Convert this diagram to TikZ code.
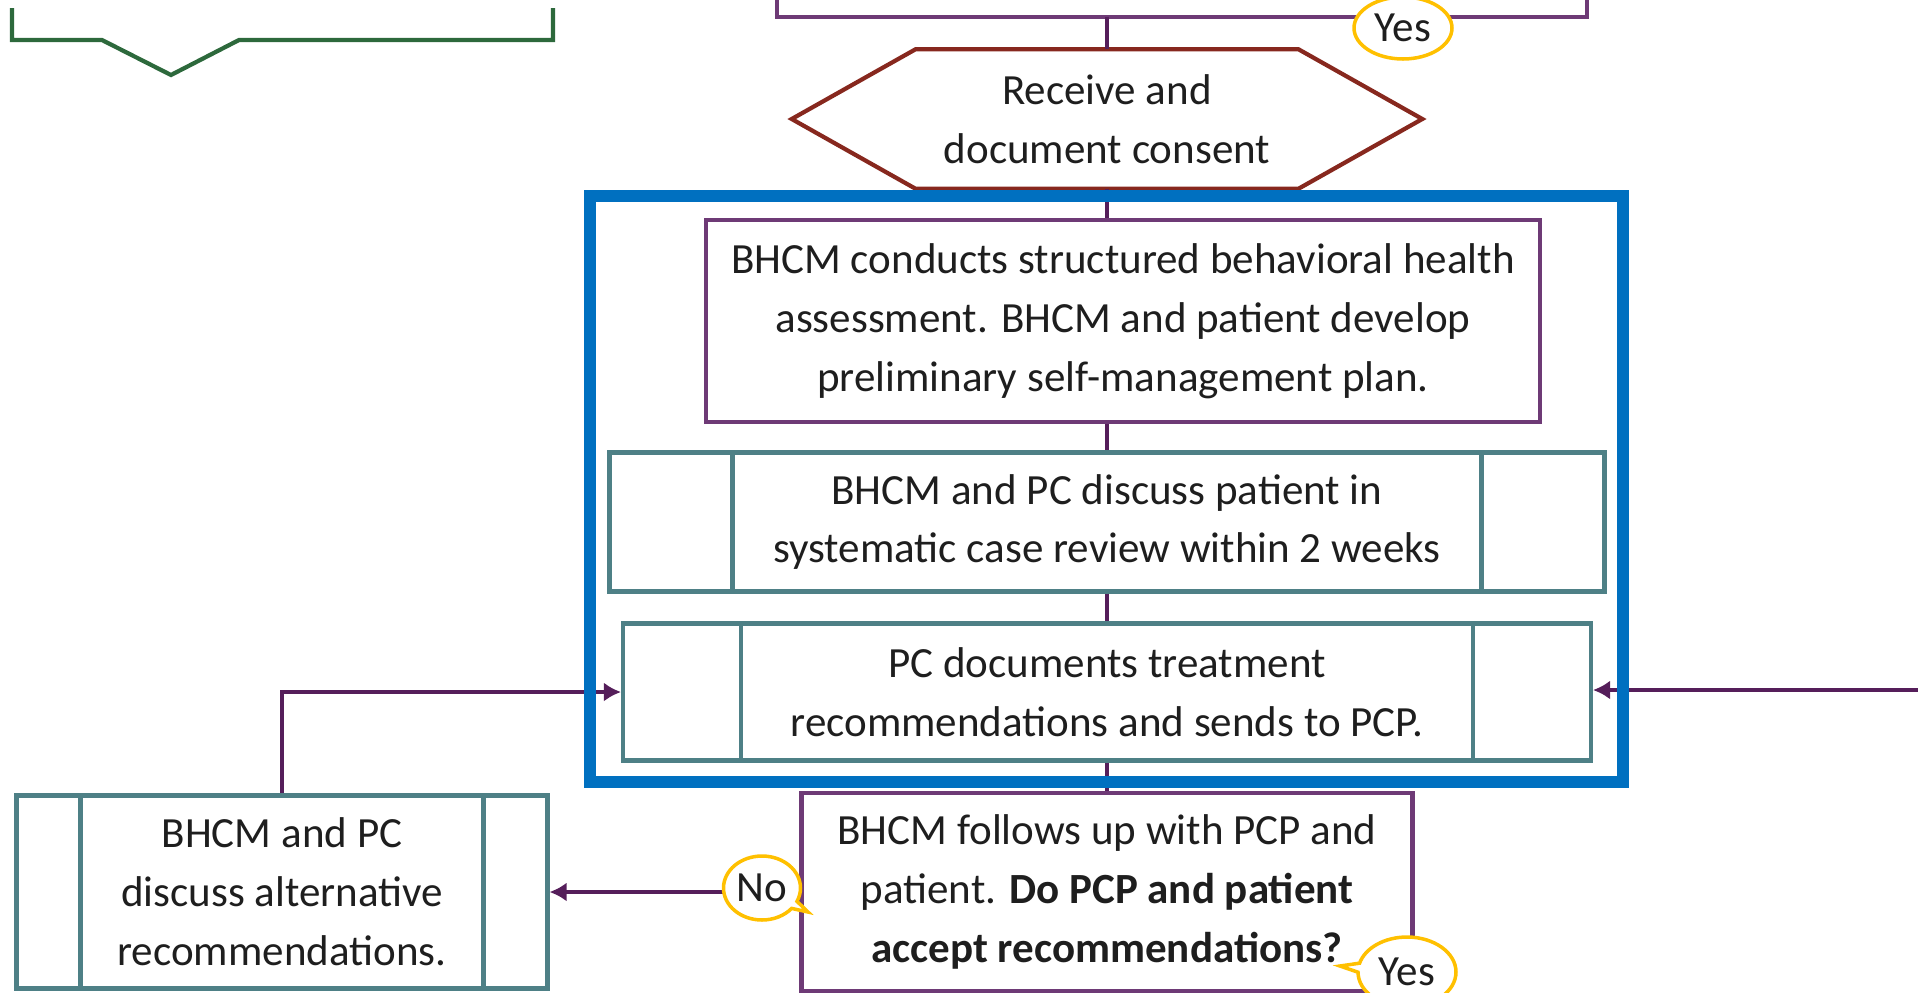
\documentclass[tikz,border=0pt]{standalone}
\usepackage{fontspec}
\setmainfont{Carlito}
\usetikzlibrary{shapes,arrows.meta,calc}

\definecolor{linepurple}{RGB}{85,30,90}
\definecolor{boxpurple}{RGB}{110,58,118}
\definecolor{tealbox}{RGB}{78,128,134}
\definecolor{hexred}{RGB}{135,40,30}
\definecolor{greenline}{RGB}{45,105,60}
\definecolor{frameblue}{RGB}{0,112,192}
\definecolor{calloutyellow}{RGB}{255,192,0}
\definecolor{txt}{RGB}{30,30,30}

\begin{document}
\begin{tikzpicture}[x=0.02cm, y=-0.02cm, >={Latex[length=0.34cm, width=0.38cm]}, font=\fontsize{24.5}{33.5}\selectfont, text=txt]
  \tikzstyle{proc}=[rectangle, draw=boxpurple, line width=2.4pt, align=center, inner sep=0pt]
  \tikzstyle{subproc}=[rectangle, draw=tealbox, line width=2.4pt, align=center, inner sep=0pt]
  \tikzstyle{flow}=[draw=linepurple, line width=2.2pt]
  \tikzstyle{bubble}=[ellipse callout, draw=calloutyellow, fill=white, line width=2pt, inner sep=0pt, minimum width=1.54cm, minimum height=1.28cm]
  \useasboundingbox (0,0) rectangle (1918,992);

  % shapes cut off at the top
  \draw[draw=greenline, line width=2.4pt] (12,8) -- (12,40) -- (102,40) -- (171,75) -- (239,40) -- (553,40) -- (553,8);
  \draw[draw=boxpurple, line width=2.4pt] (777,0) -- (777,17) -- (1587,17) -- (1587,0);
  \coordinate (prev) at (1107,17);

  \node (consent) at (1107,119) [minimum width=12.6cm, minimum height=2.78cm, inner sep=0pt, align=center] {Receive and\\document consent};
  \draw[draw=hexred, line width=2.4pt] (consent.west) -- ($(consent.north west)+(124,0)$) -- ($(consent.north east)+(-124,0)$)
    -- (consent.east) -- ($(consent.south east)+(-124,0)$) -- ($(consent.south west)+(124,0)$) -- cycle;

  \node[proc] (assess) at (1123,321) [minimum width=16.68cm, minimum height=4.04cm] {BHCM conducts structured behavioral health\\assessment. BHCM and patient develop\\preliminary self-management plan.};
  \node[subproc] (review) at (1107,522) [minimum width=19.9cm, minimum height=2.78cm] {BHCM and PC discuss patient in\\systematic case review within 2 weeks};
  \node[subproc] (reco) at (1107,692) [minimum width=19.36cm, minimum height=2.74cm] {PC documents treatment\\recommendations and sends to PCP.};
  \node[proc] (follow) at (1107,892) [minimum width=12.22cm, minimum height=3.96cm] {BHCM follows up with PCP and\\patient. \textbf{Do PCP and patient}\\\textbf{accept recommendations?}};
  \node[subproc] (altrec) at (282,892) [minimum width=10.62cm, minimum height=3.86cm] {BHCM and PC\\discuss alternative\\recommendations.};

  % side bars of the predefined process boxes
  \foreach \n/\d in {review/125, reco/120, altrec/66}
    \draw[draw=tealbox, line width=2.4pt] ([xshift=\d*0.02cm]\n.north west) -- ([xshift=\d*0.02cm]\n.south west)
      ([xshift=-\d*0.02cm]\n.north east) -- ([xshift=-\d*0.02cm]\n.south east);

  \draw[flow] (prev) -- (consent.north);
  \draw[flow] (consent.south) -- (consent.south |- assess.north);
  \draw[flow] (assess.south -| review.north) -- (review.north);
  \path (review) edge[flow] (reco)
        (reco) edge[flow] (follow);
  \draw[flow, ->] (altrec.north) |- (reco.west);
  \coordinate (rin) at (1918,690);
  \draw[flow, ->] (rin) -- (rin -| reco.east);
  \draw[flow, ->] (follow.west) -- (follow.west -| altrec.east);

  \node (team) at (1106.5,489) [draw=frameblue, line width=6.8pt, minimum width=20.66cm, minimum height=11.72cm, inner sep=0pt] {};

  \node[bubble, callout absolute pointer={(808,912)}] (no) at (762,888) {No};
  \node[bubble, callout absolute pointer={(1340,966)}, minimum width=1.96cm, minimum height=1.4cm] (yesb) at (1407,972) {Yes};
  \node[ellipse, draw=calloutyellow, fill=white, line width=2pt, inner sep=0pt, minimum width=1.96cm, minimum height=1.24cm] (yest) at (1403,28) {Yes};
\end{tikzpicture}
\end{document}
